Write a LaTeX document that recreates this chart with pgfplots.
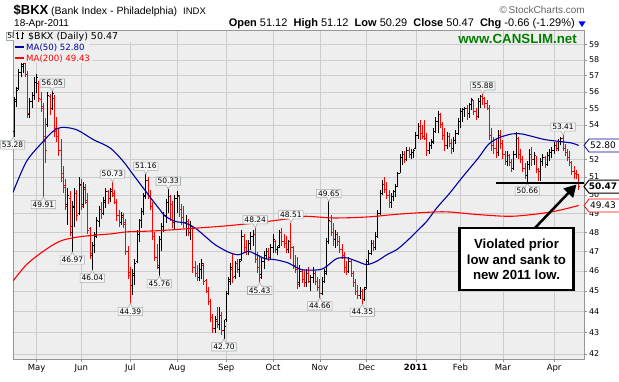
\documentclass[border=0pt]{standalone}
\usepackage{pgfplots}
\pgfplotsset{compat=1.18}
\usepackage{pgfplotstable}
\usepackage{fontspec}
\setmainfont{Liberation Sans}
\newfontfamily\dejavu{DejaVu Sans}
\usetikzlibrary{arrows.meta,shapes.callouts}

\definecolor{plotbg}{RGB}{238,238,238}
\definecolor{gridc}{RGB}{204,204,204}
\definecolor{framec}{RGB}{150,150,150}
\definecolor{barred}{RGB}{255,0,0}
\definecolor{mablue}{RGB}{0,0,160}
\definecolor{mared}{RGB}{255,0,0}
\definecolor{cgreen}{RGB}{0,128,0}
\definecolor{lblborder}{RGB}{165,175,175}
\definecolor{lblfill}{RGB}{246,246,246}
\definecolor{scgray}{RGB}{100,100,100}

\pgfdeclareplotmark{ohlc}{%
  \pgfmathsetmacro\hlen{910.95*(ln(\ohlcH)-ln(\ohlcL))}%
  \pgfmathsetmacro\olen{910.95*(ln(\ohlcO)-ln(\ohlcL))}%
  \pgfmathsetmacro\clen{910.95*(ln(\ohlcC)-ln(\ohlcL))}%
  \pgfpathmoveto{\pgfpoint{0pt}{0pt}}%
  \pgfpathlineto{\pgfpoint{0pt}{\hlen pt}}%
  \pgfpathmoveto{\pgfpoint{-1.5pt}{\olen pt}}%
  \pgfpathlineto{\pgfpoint{0pt}{\olen pt}}%
  \pgfpathmoveto{\pgfpoint{0pt}{\clen pt}}%
  \pgfpathlineto{\pgfpoint{1.5pt}{\clen pt}}%
  \pgfusepathqstroke}

\tikzset{
  lbl/.style={rectangle callout, draw=lblborder, fill=lblfill, line width=0.6pt,
    font=\dejavu\fontsize{7.5}{8}\selectfont, inner xsep=1.5pt, inner ysep=1.3pt,
    callout pointer width=4pt, text=black},
}
\newcommand\hilbl[2]{\node[lbl, anchor=south, yshift=3.5pt, callout absolute pointer={(axis cs:#1,#2)}] at (axis cs:#1,#2) {#2};}
\newcommand\lolbl[2]{\node[lbl, anchor=north, yshift=-3.5pt, callout absolute pointer={(axis cs:#1,#2)}] at (axis cs:#1,#2) {#2};}

\pgfplotstableread{
i o h l c u
0 53.60 55.70 53.28 55.50 1
1 55.40 56.30 55.10 56.10 1
2 56.20 57.40 56.10 57.20 1
3 57.20 58.30 56.90 57.60 1
4 57.70 58.10 57.20 57.90 1
5 57.80 57.90 56.90 57.10 0
6 57.10 57.30 54.40 54.70 0
7 54.60 55.60 54.40 55.40 1
8 55.40 56.00 55.00 55.80 1
9 55.80 56.90 55.50 56.60 1
10 56.60 57.10 55.90 56.90 1
11 56.50 56.70 55.40 55.60 0
12 55.50 56.00 54.80 55.00 0
13 55.10 55.30 49.91 53.30 0
14 53.00 54.40 51.80 52.50 0
15 54.00 56.00 53.90 55.80 1
16 55.70 55.90 54.60 55.00 0
17 55.00 56.05 54.90 55.90 1
18 55.60 55.80 53.30 53.60 0
19 53.80 54.50 53.00 53.30 0
20 53.30 53.80 52.20 52.50 0
21 52.50 53.20 50.70 51.00 0
22 51.20 51.60 50.10 50.40 0
23 50.50 50.90 49.20 49.40 0
24 49.50 50.40 48.40 50.00 1
25 49.80 50.20 47.80 48.30 0
26 48.00 49.70 46.97 49.30 1
27 49.40 50.40 48.30 50.10 1
28 50.10 50.30 48.60 48.90 0
29 49.00 51.00 48.90 50.60 1
30 50.50 50.90 49.20 49.40 0
31 49.50 50.70 49.30 50.40 1
32 50.30 50.60 49.50 49.70 0
33 49.60 50.10 47.90 48.10 0
34 48.20 48.30 46.60 46.90 0
35 46.80 47.50 46.04 47.30 1
36 47.30 48.00 46.90 47.80 1
37 47.90 48.80 47.70 48.60 1
38 48.60 49.40 48.30 49.20 1
39 49.20 49.60 48.70 49.00 0
40 49.00 49.90 48.90 49.70 1
41 49.60 50.40 49.30 50.20 1
42 50.20 50.30 49.50 49.80 0
43 49.80 50.40 49.60 50.20 1
44 50.30 50.73 49.90 50.10 0
45 50.00 50.30 49.50 49.60 0
46 49.60 49.80 48.60 48.90 0
47 48.90 49.20 48.30 48.50 0
48 48.50 49.10 48.40 48.90 1
49 48.80 49.00 48.20 48.40 0
50 48.50 48.70 46.80 47.00 0
51 47.00 47.30 45.60 45.90 0
52 45.80 46.20 44.39 45.30 0
53 45.30 46.10 44.80 45.80 1
54 45.90 46.60 45.30 46.40 1
55 46.50 48.10 46.40 47.90 1
56 47.90 48.70 47.50 48.60 1
57 48.60 49.30 48.20 49.10 1
58 49.10 50.10 48.90 49.90 1
59 50.00 51.16 49.80 50.80 1
60 50.80 51.00 49.80 50.00 0
61 50.00 50.30 49.20 49.40 0
62 49.40 49.60 47.60 47.80 0
63 47.80 48.00 46.50 46.70 0
64 46.70 47.40 46.10 46.30 0
65 46.20 47.80 45.76 47.60 1
66 47.60 48.50 47.00 48.30 1
67 48.30 49.10 48.00 48.90 1
68 48.90 49.80 48.50 49.60 1
69 49.60 50.33 49.00 49.90 1
70 49.90 50.00 48.60 49.50 0
71 49.50 49.70 48.20 48.50 0
72 48.50 50.00 48.10 49.80 1
73 49.80 50.20 49.00 50.00 1
74 49.90 50.00 48.80 49.20 0
75 49.20 49.50 48.40 48.80 0
76 48.80 49.40 48.20 48.50 0
77 48.50 48.90 47.80 48.60 1
78 48.60 48.70 47.80 48.00 0
79 48.00 48.60 47.60 48.30 1
80 48.20 48.30 45.90 46.20 0
81 46.20 46.50 45.70 45.90 0
82 45.90 46.30 45.50 45.70 0
83 45.70 46.40 45.50 46.10 1
84 46.10 46.60 45.60 46.40 1
85 46.30 46.40 45.30 45.50 0
86 45.50 45.60 44.90 45.00 0
87 45.00 45.20 44.30 44.50 0
88 44.50 44.60 43.50 43.70 0
89 43.70 43.90 43.00 43.20 0
90 43.20 43.80 43.00 43.60 1
91 43.50 44.20 43.20 43.40 0
92 43.40 44.20 43.10 43.80 1
93 43.80 44.00 42.90 43.10 0
94 43.10 43.60 42.70 43.30 1
95 43.60 45.00 43.50 44.90 1
96 44.90 45.70 44.80 45.50 1
97 45.60 46.40 45.30 46.20 1
98 46.10 46.90 45.40 45.70 0
99 45.70 46.50 45.60 46.40 1
100 46.40 46.60 45.90 46.10 0
101 46.10 46.60 45.70 46.50 1
102 46.60 48.10 46.50 47.80 1
103 47.80 47.90 46.90 47.20 0
104 47.20 47.60 46.80 47.00 0
105 47.00 47.60 46.80 47.40 1
106 47.40 48.00 47.10 47.80 1
107 47.80 48.10 47.30 47.90 1
108 47.90 48.24 46.40 46.60 0
109 46.60 47.00 45.90 46.20 0
110 46.20 46.80 45.43 45.70 0
111 45.80 46.70 45.60 46.50 1
112 46.50 47.00 46.10 46.80 1
113 46.80 47.20 46.60 47.00 1
114 47.00 47.20 46.50 46.70 0
115 46.70 47.40 46.60 47.20 1
116 47.20 47.90 46.90 47.60 1
117 47.50 47.60 46.90 47.10 0
118 47.10 47.30 46.80 47.20 1
119 47.30 48.10 47.20 48.00 1
120 48.00 48.20 47.30 47.50 0
121 47.50 47.90 47.20 47.40 0
122 47.40 47.80 46.90 47.10 0
123 47.10 47.60 46.90 47.50 1
124 47.50 48.51 46.60 47.20 0
125 47.20 47.30 46.10 46.30 0
126 46.30 46.80 45.90 46.10 0
127 46.10 46.70 45.10 45.30 0
128 45.40 46.30 45.20 46.00 1
129 46.00 46.10 45.40 45.60 0
130 45.60 46.00 45.20 45.40 0
131 45.40 46.10 45.20 45.90 1
132 45.90 46.20 45.40 45.50 0
133 45.50 45.80 45.00 45.70 1
134 45.70 46.20 45.40 45.90 1
135 45.90 46.00 45.30 45.50 0
136 45.50 45.70 45.00 45.20 0
137 45.20 45.60 44.66 44.90 0
138 44.90 45.70 44.80 45.50 1
139 45.50 46.10 45.40 45.90 1
140 46.00 47.70 45.80 47.50 1
141 47.50 49.65 47.40 48.60 1
142 48.60 48.90 47.80 48.00 0
143 48.00 48.50 47.30 47.60 0
144 47.60 48.10 47.20 47.90 1
145 47.90 48.00 47.30 47.50 0
146 47.50 47.80 46.90 47.10 0
147 47.10 47.40 46.60 46.80 0
148 46.80 47.00 45.90 46.20 0
149 46.20 46.50 45.80 46.00 0
150 46.00 46.70 45.90 46.50 1
151 46.50 46.60 45.70 45.90 0
152 45.90 46.00 45.20 45.40 0
153 45.40 45.60 44.80 45.00 0
154 45.00 45.30 44.60 44.80 0
155 44.80 45.20 44.60 45.00 1
156 45.00 45.10 44.35 44.60 0
157 44.60 45.20 44.50 45.10 1
158 45.20 46.60 45.10 46.50 1
159 46.50 47.10 46.30 46.90 1
160 46.90 47.60 46.80 47.40 1
161 47.40 47.60 47.00 47.20 0
162 47.20 48.00 47.10 47.80 1
163 47.80 49.20 47.70 49.00 1
164 49.00 50.30 48.90 50.10 1
165 50.10 50.85 50.00 50.60 1
166 50.60 51.00 50.10 50.30 0
167 50.30 50.70 49.80 50.00 0
168 50.00 50.30 49.30 49.60 0
169 49.60 50.10 49.30 49.90 1
170 49.90 50.30 49.70 50.20 1
171 50.20 50.60 49.90 50.50 1
172 50.50 51.30 50.50 51.20 1
173 51.20 52.30 51.20 52.10 1
174 52.10 52.50 51.70 52.30 1
175 52.30 52.50 51.80 52.00 0
176 52.00 52.70 51.90 52.50 1
177 52.50 52.70 52.10 52.30 0
178 52.30 52.60 52.00 52.40 1
179 52.40 52.60 52.10 52.50 1
180 52.60 53.60 52.60 53.40 1
181 53.40 54.10 53.20 53.90 1
182 53.90 54.30 53.10 53.50 0
183 53.50 54.00 53.20 53.30 0
184 53.30 54.30 53.10 53.20 0
185 53.20 53.50 52.20 52.50 0
186 52.50 53.00 52.30 52.80 1
187 52.80 53.20 52.60 53.00 1
188 53.00 53.80 52.90 53.60 1
189 53.60 54.45 53.50 54.20 1
190 54.20 54.85 53.50 54.60 1
191 54.60 54.70 53.80 54.00 0
192 54.00 54.20 53.10 53.40 0
193 53.40 53.80 52.50 52.80 0
194 52.80 53.60 52.60 53.30 1
195 53.30 53.50 52.70 52.90 0
196 52.90 53.20 52.30 52.60 0
197 52.60 53.30 52.40 53.10 1
198 53.10 53.70 52.90 53.50 1
199 53.50 54.40 53.40 54.20 1
200 54.20 55.00 53.80 54.80 1
201 54.80 55.00 54.20 54.90 1
202 54.90 55.10 54.50 55.00 1
203 55.00 55.20 54.30 54.70 0
204 54.70 55.30 54.40 55.20 1
205 55.20 55.60 54.90 55.50 1
206 55.50 55.50 54.60 54.80 0
207 54.80 55.00 54.30 54.50 0
208 54.50 55.60 54.40 55.40 1
209 55.40 55.80 55.00 55.70 1
210 55.70 55.88 55.20 55.60 0
211 55.60 55.70 55.00 55.30 0
212 55.30 55.50 54.90 55.00 0
213 55.00 55.20 53.10 53.40 0
214 53.40 53.80 52.50 52.80 0
215 52.80 53.30 52.30 52.60 0
216 52.60 53.20 52.10 52.40 0
217 52.40 53.70 52.20 53.40 1
218 53.40 53.70 52.60 52.90 0
219 52.90 53.10 52.00 52.30 0
220 52.30 52.50 51.70 51.90 0
221 51.90 52.50 51.60 52.20 1
222 52.20 52.30 51.60 51.80 0
223 51.80 52.00 51.30 51.50 0
224 51.50 52.50 51.40 52.30 1
225 52.30 53.60 52.10 53.20 1
226 53.20 53.30 52.00 52.30 0
227 52.30 52.60 51.80 52.00 0
228 52.00 52.20 51.30 51.50 0
229 51.50 51.80 50.90 51.10 0
230 51.10 51.90 50.66 51.70 1
231 51.70 52.60 51.40 52.30 1
232 52.30 52.70 51.60 52.00 0
233 52.00 52.40 51.70 52.20 1
234 52.20 52.20 51.20 51.40 0
235 51.40 51.50 50.80 51.30 0
236 51.30 52.10 50.80 51.90 1
237 51.90 52.30 51.60 52.10 1
238 52.10 52.20 51.50 51.70 0
239 51.70 52.40 51.60 52.20 1
240 52.20 52.60 51.90 52.40 1
241 52.40 52.70 52.10 52.50 1
242 52.50 53.00 52.30 52.80 1
243 52.80 53.00 52.50 52.60 0
244 52.60 53.20 52.50 53.00 1
245 53.00 53.30 52.80 53.20 1
246 53.20 53.41 52.50 52.60 0
247 52.60 52.90 52.20 52.40 0
248 52.40 52.60 51.90 52.10 0
249 52.10 52.50 51.60 51.80 0
250 51.80 51.90 51.10 51.30 0
251 51.30 51.60 50.90 51.20 0
252 51.20 51.40 50.90 51.13 0
253 51.12 51.12 50.29 50.47 0
}\ohlcdata

\begin{document}
\begin{tikzpicture}
\useasboundingbox (0,0) rectangle (619pt,382pt);
\fill[white] (0,0) rectangle (619pt,382pt);

% header
\node[anchor=base west, inner sep=0, font=\bfseries\fontsize{13}{15}\selectfont] at (13.5pt,367pt) {\$BKX};
\node[anchor=base west, inner sep=0, font=\fontsize{10.5}{12}\selectfont] at (51pt,367.5pt) {(Bank Index - Philadelphia)};
\node[anchor=base west, inner sep=0, font=\fontsize{9.5}{11}\selectfont] at (183pt,367.5pt) {INDX};
\node[anchor=base west, inner sep=0, font=\fontsize{10}{12}\selectfont] at (14pt,355.3pt) {18-Apr-2011};
\node[anchor=base east, inner sep=0, font=\fontsize{11}{13}\selectfont] at (575pt,355pt)
  {\textbf{Open} 51.12\ \ \textbf{High} 51.12\ \ \textbf{Low} 50.29\ \ \textbf{Close} 50.47\ \ \textbf{Chg} -0.66 (-1.29\%)};
\fill[blue] (578.5pt,360.5pt) -- (585.5pt,360.5pt) -- (582pt,355pt) -- cycle;
\node[anchor=base east, inner sep=0, text=scgray, font=\fontsize{10}{12}\selectfont] at (585pt,368pt) {\textcopyright\,StockCharts.com};

\begin{axis}[
  at={(13pt,23pt)}, anchor=south west,
  scale only axis, width=571pt, height=329pt,
  enlargelimits=false,
  xmin=-0.6, xmax=255.4,
  ymode=log, ymin=41.77, ymax=59.94,
  xtick={10,30,52,73,95,116,137,158,180,200,219,242},
  xticklabels={May,Jun,Jul,Aug,Sep,Oct,Nov,Dec,\textbf{2011},Feb,Mar,Apr},
  ytick={42,43,44,45,46,47,48,49,50,51,52,53,54,55,56,57,58,59},
  yticklabels={42,43,44,45,46,47,48,49,50,51,52,{},54,55,56,57,58,59},
  yminorticks=false, xminorticks=false,
  ytick pos=right, yticklabel pos=right, xtick pos=left,
  tick align=outside, major tick length=3pt,
  grid=major, grid style={gridc, line width=0.6pt},
  axis line style={framec, line width=0.7pt},
  tick style={framec, line width=0.6pt},
  axis background/.style={fill=plotbg},
  xticklabel style={font=\dejavu\fontsize{8.5}{10}\selectfont, text=black, yshift=1pt},
  yticklabel style={font=\dejavu\fontsize{8}{10}\selectfont, text=black, xshift=-1.5pt},
  clip mode=individual,
]
\addplot[scatter, only marks, mark=ohlc, line width=1pt,
  point meta=explicit symbolic,
  scatter/classes={0={barred},1={black}},
  visualization depends on={\thisrow{h} \as \ohlcH},
  visualization depends on={\thisrow{l} \as \ohlcL},
  visualization depends on={\thisrow{o} \as \ohlcO},
  visualization depends on={\thisrow{c} \as \ohlcC},
] table[x=i, y=l, meta=u] {\ohlcdata};

\addplot[mablue, line width=1.1pt, smooth, tension=0.5, mark=none] coordinates {
(-0.6,50.15) (5.5,51.89) (13,53.04) (17.4,53.63) (21.2,53.86) (27.9,53.72) (35.4,53.14)
(42.9,52.66) (48.8,51.89) (53.3,51.13) (57.8,50.39) (62.3,49.66) (65.3,49.20) (67.5,48.87)
(72,48.58) (76.5,48.49) (81,48.23) (85.5,47.79) (90,47.35) (95.9,46.97) (100.4,46.83)
(104.9,47.01) (107.9,46.87) (112.4,46.63) (116.9,46.58) (122.8,46.41) (128.8,46.07)
(137,46.07) (140,46.24) (144.5,46.63) (149,46.67) (153.5,46.50) (158,46.33) (162.5,46.50)
(167,46.83) (171.4,47.09) (175.9,47.53) (180.4,48.05) (184.9,48.58) (189.4,49.30)
(195.3,50.12) (200.6,50.95) (208,52.08) (212.5,52.85) (217,53.23) (223,53.47) (227.5,53.47)
(232,53.33) (237.9,53.14) (243.9,53.04) (249.9,52.94) (253,52.80)};

\addplot[mared, line width=1.1pt, smooth, tension=0.5, mark=none] coordinates {
(-0.6,45.50) (5.5,46.33) (13,47.01) (20.4,47.53) (27.9,47.74) (35.4,47.84) (42.9,47.91)
(50.4,48.02) (57.8,48.05) (65.3,48.09) (78,48.19) (93,48.32) (107.9,48.49) (122.8,48.72)
(130.3,48.85) (143,48.76) (158,48.81) (172.9,48.97) (187.8,49.08) (195.3,49.08) (208,48.94)
(223,48.85) (237.9,49.03) (245.4,49.20) (253,49.43)};

% price labels
\hilbl{17}{56.05}
\hilbl{44}{50.73}
\hilbl{59}{51.16}
\hilbl{69}{50.33}
\hilbl{108}{48.24}
\hilbl{124}{48.51}
\hilbl{141}{49.65}
\hilbl{210}{55.88}
\hilbl{246}{53.41}
\lolbl{13}{49.91}
\lolbl{26}{46.97}
\lolbl{35}{46.04}
\lolbl{52}{44.39}
\lolbl{65}{45.76}
\lolbl{94}{42.70}
\lolbl{110}{45.43}
\lolbl{137}{44.66}
\lolbl{156}{44.35}
\lolbl{230}{50.66}

% prior low line
\draw[black, line width=2pt] (axis cs:216,50.66) -- (axis cs:255.4,50.66);

\coordinate (tagA) at (axis cs:255.4,52.80);
\coordinate (tagB) at (axis cs:255.4,49.43);
\coordinate (tagC) at (axis cs:255.4,50.47);
\end{axis}

% right value tags
\draw[fill=white, draw=mablue, line width=0.8pt] (tagA) -- ++(5pt,6.5pt) -- ++(32pt,0pt) -- ++(0pt,-13pt) -- ++(-32pt,0pt) -- cycle;
\node[inner sep=0, font=\dejavu\fontsize{9}{10}\selectfont] at ([xshift=19pt]tagA) {52.80};
\draw[fill=white, draw=mared, line width=0.8pt] (tagB) -- ++(5pt,6.5pt) -- ++(32pt,0pt) -- ++(0pt,-13pt) -- ++(-32pt,0pt) -- cycle;
\node[inner sep=0, font=\dejavu\fontsize{9}{10}\selectfont] at ([xshift=19pt]tagB) {49.43};
\draw[fill=white, draw=black, line width=1pt] (tagC) -- ++(5pt,6.5pt) -- ++(32pt,0pt) -- ++(0pt,-13pt) -- ++(-32pt,0pt) -- cycle;
\node[inner sep=0, font=\dejavu\bfseries\fontsize{9}{10}\selectfont] at ([xshift=19pt]tagC) {50.47};

% partially hidden top-left label
\node[rectangle, draw=lblborder, fill=lblfill, line width=0.6pt, anchor=west,
  font=\dejavu\fontsize{7.5}{8}\selectfont, inner xsep=1.5pt, inner ysep=1.3pt] at (5.5pt,345.8pt) {58.32};
% left-edge label
\node[rectangle callout, draw=lblborder, fill=lblfill, line width=0.6pt, anchor=north west,
  font=\dejavu\fontsize{7.5}{8}\selectfont, inner xsep=1.5pt, inner ysep=1.3pt,
  callout pointer width=4pt, callout absolute pointer={(13.5pt,245pt)}] at (0pt,241.5pt) {53.28};

% legend
\fill[plotbg] (13.6pt,340.3pt) rectangle (134pt,351.4pt);
\fill[plotbg] (13.6pt,329.5pt) rectangle (89pt,340.3pt);
\fill[plotbg] (13.6pt,318.5pt) rectangle (93pt,329.5pt);
\draw[black, line width=0.8pt] (17pt,342.5pt) -- (17pt,350pt) (15.5pt,348.5pt) -- (17pt,348.5pt) (17pt,344pt) -- (18.5pt,344pt);
\draw[black, line width=0.8pt] (22pt,342.5pt) -- (22pt,350pt) (20.5pt,344pt) -- (22pt,344pt) (22pt,348.5pt) -- (23.5pt,348.5pt);
\node[anchor=base west, inner sep=0, font=\dejavu\fontsize{9.5}{11}\selectfont] at (28pt,342.8pt) {\$BKX (Daily) 50.47};
\draw[mablue, line width=2pt] (15pt,334.8pt) -- (24pt,334.8pt);
\node[anchor=base west, inner sep=0, text=mablue, font=\dejavu\fontsize{8.6}{10}\selectfont] at (26pt,331.8pt) {MA(50) 52.80};
\draw[mared, line width=2pt] (15pt,323.8pt) -- (24pt,323.8pt);
\node[anchor=base west, inner sep=0, text=mared, font=\dejavu\fontsize{8.6}{10}\selectfont] at (26pt,320.8pt) {MA(200) 49.43};

% CANSLIM
\node[anchor=base east, inner sep=0, text=cgreen, font=\bfseries\fontsize{13.3}{15}\selectfont] at (577pt,338.5pt) {www.CANSLIM.net};

% annotation
\draw[black, line width=2.5pt, -{Triangle[length=12pt,width=13pt]}] (534pt,153pt) -- (576.5pt,197.5pt);
\draw[black, line width=2.4pt, fill=white] (459.5pt,154pt) rectangle (573.5pt,92pt);
\node[anchor=base, inner sep=0, font=\bfseries\fontsize{13.2}{15}\selectfont] at (516.5pt,133.7pt) {Violated prior};
\node[anchor=base, inner sep=0, font=\bfseries\fontsize{13.2}{15}\selectfont] at (516.5pt,117.5pt) {low and sank to};
\node[anchor=base, inner sep=0, font=\bfseries\fontsize{13.2}{15}\selectfont] at (516.5pt,102.5pt) {new 2011 low.};
\end{tikzpicture}
\end{document}
